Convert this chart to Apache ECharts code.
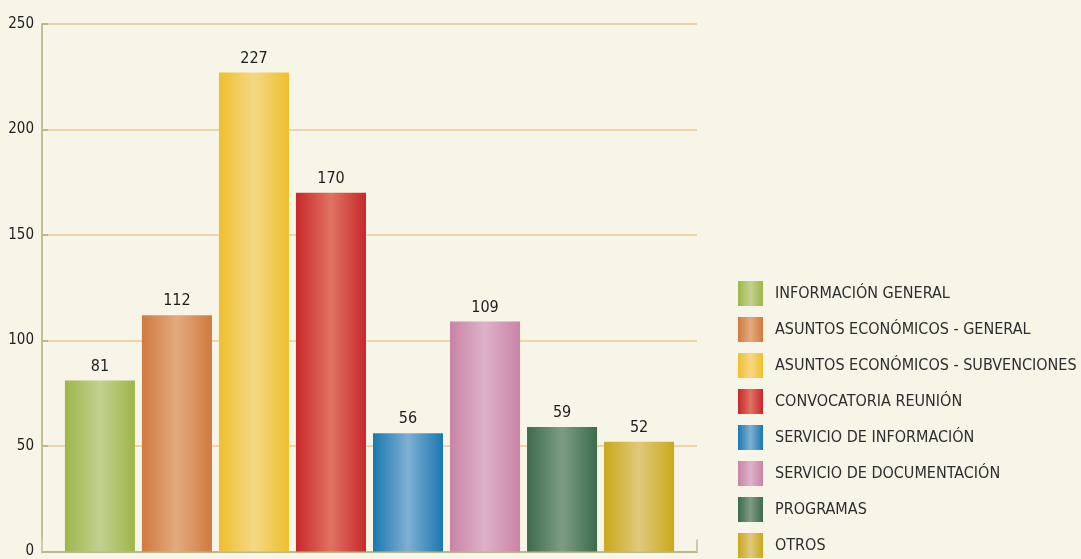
<!DOCTYPE html>
<html>
<head>
<meta charset="utf-8">
<script src="https://cdn.jsdelivr.net/npm/echarts@6/dist/echarts.min.js"></script>
<style>
html,body{margin:0;padding:0;background:#f7f4e8;}
#chart{width:1081px;height:559px;}
</style>
</head>
<body>
<div id="chart"></div>
<script>
var seriesNames = ['INFORMACIÓN GENERAL','ASUNTOS ECONÓMICOS - GENERAL','ASUNTOS ECONÓMICOS - SUBVENCIONES','CONVOCATORIA REUNIÓN','SERVICIO DE INFORMACIÓN','SERVICIO DE DOCUMENTACIÓN','PROGRAMAS','OTROS'];
var seriesValues = [81,112,227,170,56,109,59,52];
var edgeColors = ['#9db64a','#d07a40','#efbf2c','#c8282a','#1a78b0','#c983a4','#3d6b4b','#c9a91a'];
var centerColors = ['#c3d18f','#e3aa7e','#f5d886','#e07262','#7fb0d3','#ddb2c8','#7e9c84','#e0c97c'];
var yTicks = [0,50,100,150,200,250];

var FONT = "'Liberation Sans Narrow','DejaVu Sans Condensed','Roboto',sans-serif";

function grad(i){
  return new echarts.graphic.LinearGradient(0,0,1,0,[
    {offset:0,color:edgeColors[i]},{offset:0.5,color:centerColors[i]},{offset:1,color:edgeColors[i]}]);
}

var chart = echarts.init(document.getElementById('chart'));
var series = seriesNames.map(function(n,i){
  return {
    name:n, type:'bar', data:[seriesValues[i]],
    barGap:'10%', barCategoryGap:'7%',
    itemStyle:{color:grad(i)},
    label:{show:true,position:'top',distance:6,color:'#1e1e1e',fontSize:16,fontFamily:FONT}
  };
});
chart.setOption({
  backgroundColor:'#f7f4e8',
  animation:false,
  grid:{left:42,right:384,top:24,bottom:6,containLabel:false},
  legend:{
    orient:'vertical',left:738,top:281,padding:0,itemWidth:25,itemHeight:25,itemGap:11,
    icon:'rect',
    textStyle:{color:'#2e2e2e',fontSize:16,fontFamily:FONT,padding:[0,0,0,7]},
    data:seriesNames.map(function(n,i){return {name:n,itemStyle:{color:grad(i)}};})
  },
  xAxis:{type:'category',data:[''],boundaryGap:true,
    axisLine:{lineStyle:{color:'#bcb88e',width:2}},
    axisTick:{show:true,inside:true,length:12,lineStyle:{color:'#cfcbaa',width:2}},
    axisLabel:{show:false}},
  yAxis:{type:'value',min:yTicks[0],max:yTicks[yTicks.length-1],interval:50,
    axisLine:{show:true,lineStyle:{color:'#c2bf98',width:2}},
    axisTick:{show:true,inside:true,length:6,lineStyle:{color:'#bcb88e',width:2}},
    axisLabel:{color:'#1e1e1e',fontSize:15,fontFamily:FONT,margin:8},
    splitLine:{lineStyle:{color:'#ecd5a6',width:2}}},
  series:series
});
</script>
</body>
</html>
